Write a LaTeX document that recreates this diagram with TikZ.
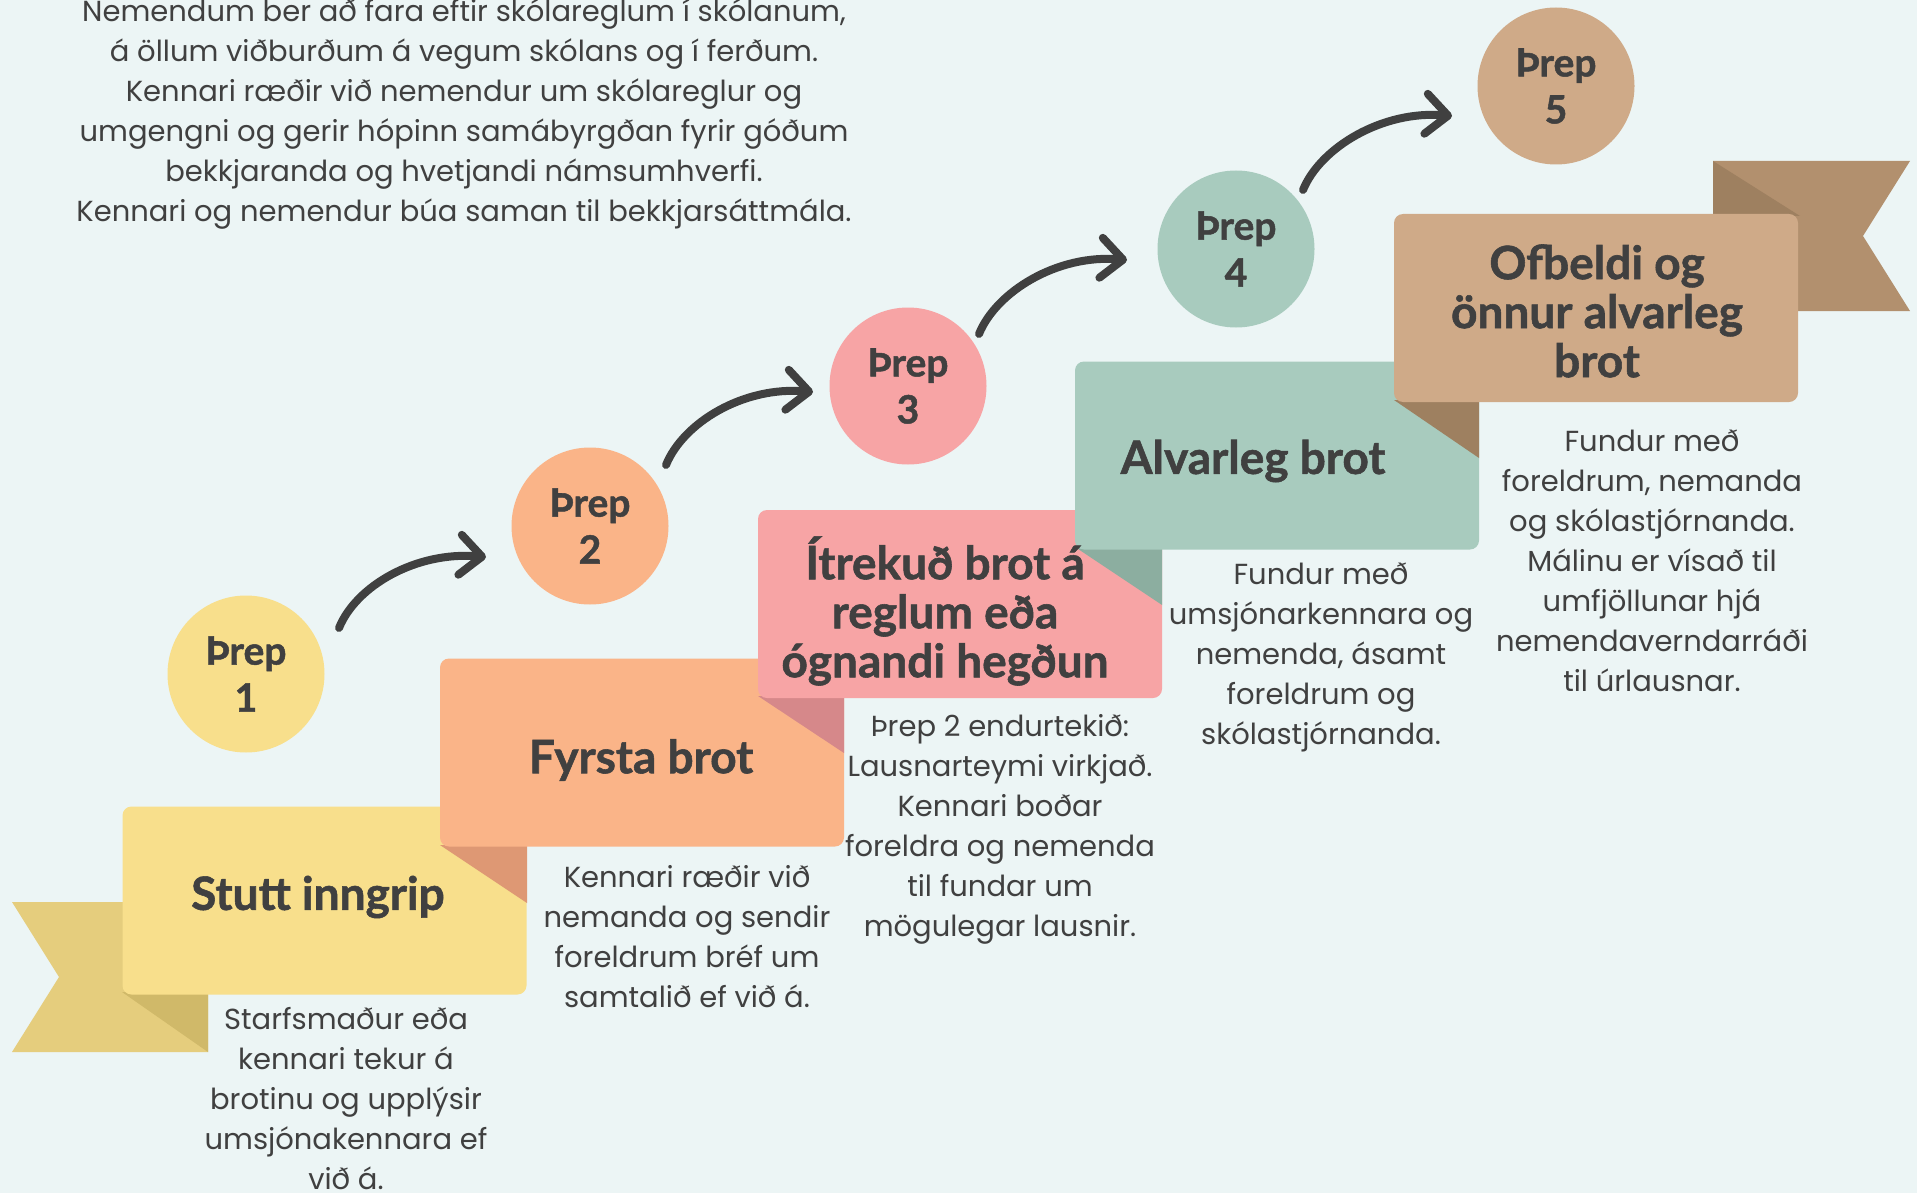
\documentclass[tikz,border=0pt]{standalone}
\usepackage{fontspec}
\setmainfont{Lato}
\newfontfamily\bodyfont{Poppins}
\newfontfamily\headfont{Lato}[BoldFeatures={FakeBold=1.2}]
\usetikzlibrary{arrows.meta,calc}
\definecolor{bg}{HTML}{ECF5F5}
\definecolor{txt}{HTML}{404040}
\definecolor{ybox}{HTML}{F8DF8C}
\definecolor{ytail}{HTML}{E5CD7D}
\definecolor{yfold}{HTML}{D0B969}
\definecolor{obox}{HTML}{FAB488}
\definecolor{ofold}{HTML}{DE9874}
\definecolor{pbox}{HTML}{F7A4A5}
\definecolor{pfold}{HTML}{D6888A}
\definecolor{gbox}{HTML}{A8CBBE}
\definecolor{gfold}{HTML}{8CAEA0}
\definecolor{tbox}{HTML}{CFAA88}
\definecolor{ttail}{HTML}{B2906E}
\definecolor{tfold}{HTML}{9E8060}
\begin{document}
\begin{tikzpicture}[x=1pt,y=-1pt,
  box/.style={rectangle,rounded corners=9pt,minimum width=404pt,minimum height=188pt,inner sep=0pt},
  circ/.style={circle,minimum size=157pt,inner sep=0pt,text=txt,align=center,
    font=\headfont\bfseries\fontsize{39}{47}\selectfont},
  head/.style={text=txt,align=center,inner sep=0pt,font=\headfont\bfseries\fontsize{46}{49}\selectfont},
  body/.style={text=txt,align=center,inner sep=0pt,font=\bodyfont\fontsize{29}{40}\selectfont},
  arr/.style={draw=txt,line width=8pt,line cap=round,line join=round,
    -{Straight Barb[length=22pt,width=40pt,round]}},
]
\useasboundingbox (0,0) rectangle (1917,1193);
\fill[bg] (0,0) rectangle (1917,1193);

% step 1 (yellow) with tail
\fill[ytail] (12,902) -- (208,902) -- (208,1052) -- (12,1052) -- (59,977) -- cycle;
\fill[yfold] (122,992) -- (208,992) -- (208,1052) -- cycle;
\node[box,fill=ybox] (b1) at (324.5,900.5) {};
% step 2 (orange)
\fill[ofold] (440,845) -- (527,845) -- (527,903) -- cycle;
\node[box,fill=obox] (b2) at (642,752.5) {};
% step 3 (pink)
\fill[pfold] (758,696) -- (844,696) -- (844,753) -- cycle;
\node[box,fill=pbox] (b3) at (960,604) {};
% step 4 (green)
\fill[gfold] (1075,547) -- (1162,547) -- (1162,605) -- cycle;
\node[box,fill=gbox] (b4) at (1277,455.5) {};
% step 5 (tan) with tail
\fill[tfold] (1394,400) -- (1479,400) -- (1479,458) -- cycle;
\fill[ttail] (1713,161) -- (1910,161) -- (1863,236) -- (1910,311) -- (1713,311) -- cycle;
\fill[tfold] (1713,161) -- (1713,216) -- (1800,216) -- cycle;
\node[box,fill=tbox] (b5) at (1596,308) {};

% headings
\node[head] (h1) at (318,897) {Stutt inngrip};
\node[head] (h2) at (641,760) {Fyrsta brot};
\node[head] (h3) at (945,611) {Ítrekuð brot á\\reglum eða\\ógnandi hegðun};
\node[head] (h4) at (1253,461) {Alvarleg brot};
\node[head] (h5) at (1597,311) {Ofbeldi og\\önnur alvarleg\\brot};

% descriptions
\node[body] (t0) at (464,114) {Nemendum ber að fara eftir skólareglum í skólanum,\\á öllum viðburðum á vegum skólans og í ferðum.\\Kennari ræðir við nemendur um skólareglur og\\umgengni og gerir hópinn samábyrgðan fyrir góðum\\bekkjaranda og hvetjandi námsumhverfi.\\Kennari og nemendur búa saman til bekkjarsáttmála.};
\node[body] (t1) at (346,1099) {Starfsmaður eða\\kennari tekur á\\brotinu og upplýsir\\umsjónakennara ef\\við á.};
\node[body] (t2) at (687,937) {Kennari ræðir við\\nemanda og sendir\\foreldrum bréf um\\samtalið ef við á.};
\node[body] (t3) at (1000,829) {Þrep 2 endurtekið:\\Lausnarteymi virkjað.\\Kennari boðar\\foreldra og nemenda\\til fundar um\\mögulegar lausnir.};
\node[body] (t4) at (1321,657) {Fundur með\\umsjónarkennara og\\nemenda, ásamt\\foreldrum og\\skólastjórnanda.};
\node[body] (t5) at (1652,561) {Fundur með\\foreldrum, nemanda\\og skólastjórnanda.\\Málinu er vísað til\\umfjöllunar hjá\\nemendaverndarráði\\til úrlausnar.};

% circles
\node[circ,fill=ybox] (c1) at (246,674) {Þrep\\1};
\node[circ,fill=obox] (c2) at (590,526) {Þrep\\2};
\node[circ,fill=pbox] (c3) at (908,386) {Þrep\\3};
\node[circ,fill=gbox] (c4) at (1236,249) {Þrep\\4};
\node[circ,fill=tbox] (c5) at (1556,86) {Þrep\\5};

% arrows
\draw[arr] ($(c1.center)+(93,-46)$) .. controls +(17,-42) and +(-70,-6) .. ($(c2.center)+(-104,31)$);
\draw[arr] ($(c2.center)+(76,-61)$) .. controls +(17,-42) and +(-70,-6) .. ($(c3.center)+(-95,6)$);
\draw[arr] ($(c3.center)+(71,-52)$) .. controls +(17,-42) and +(-70,-6) .. ($(c4.center)+(-109,11)$);
\draw[arr] ($(c4.center)+(67,-59)$) .. controls +(17,-42) and +(-70,-6) .. ($(c5.center)+(-104,30)$);
\end{tikzpicture}
\end{document}
